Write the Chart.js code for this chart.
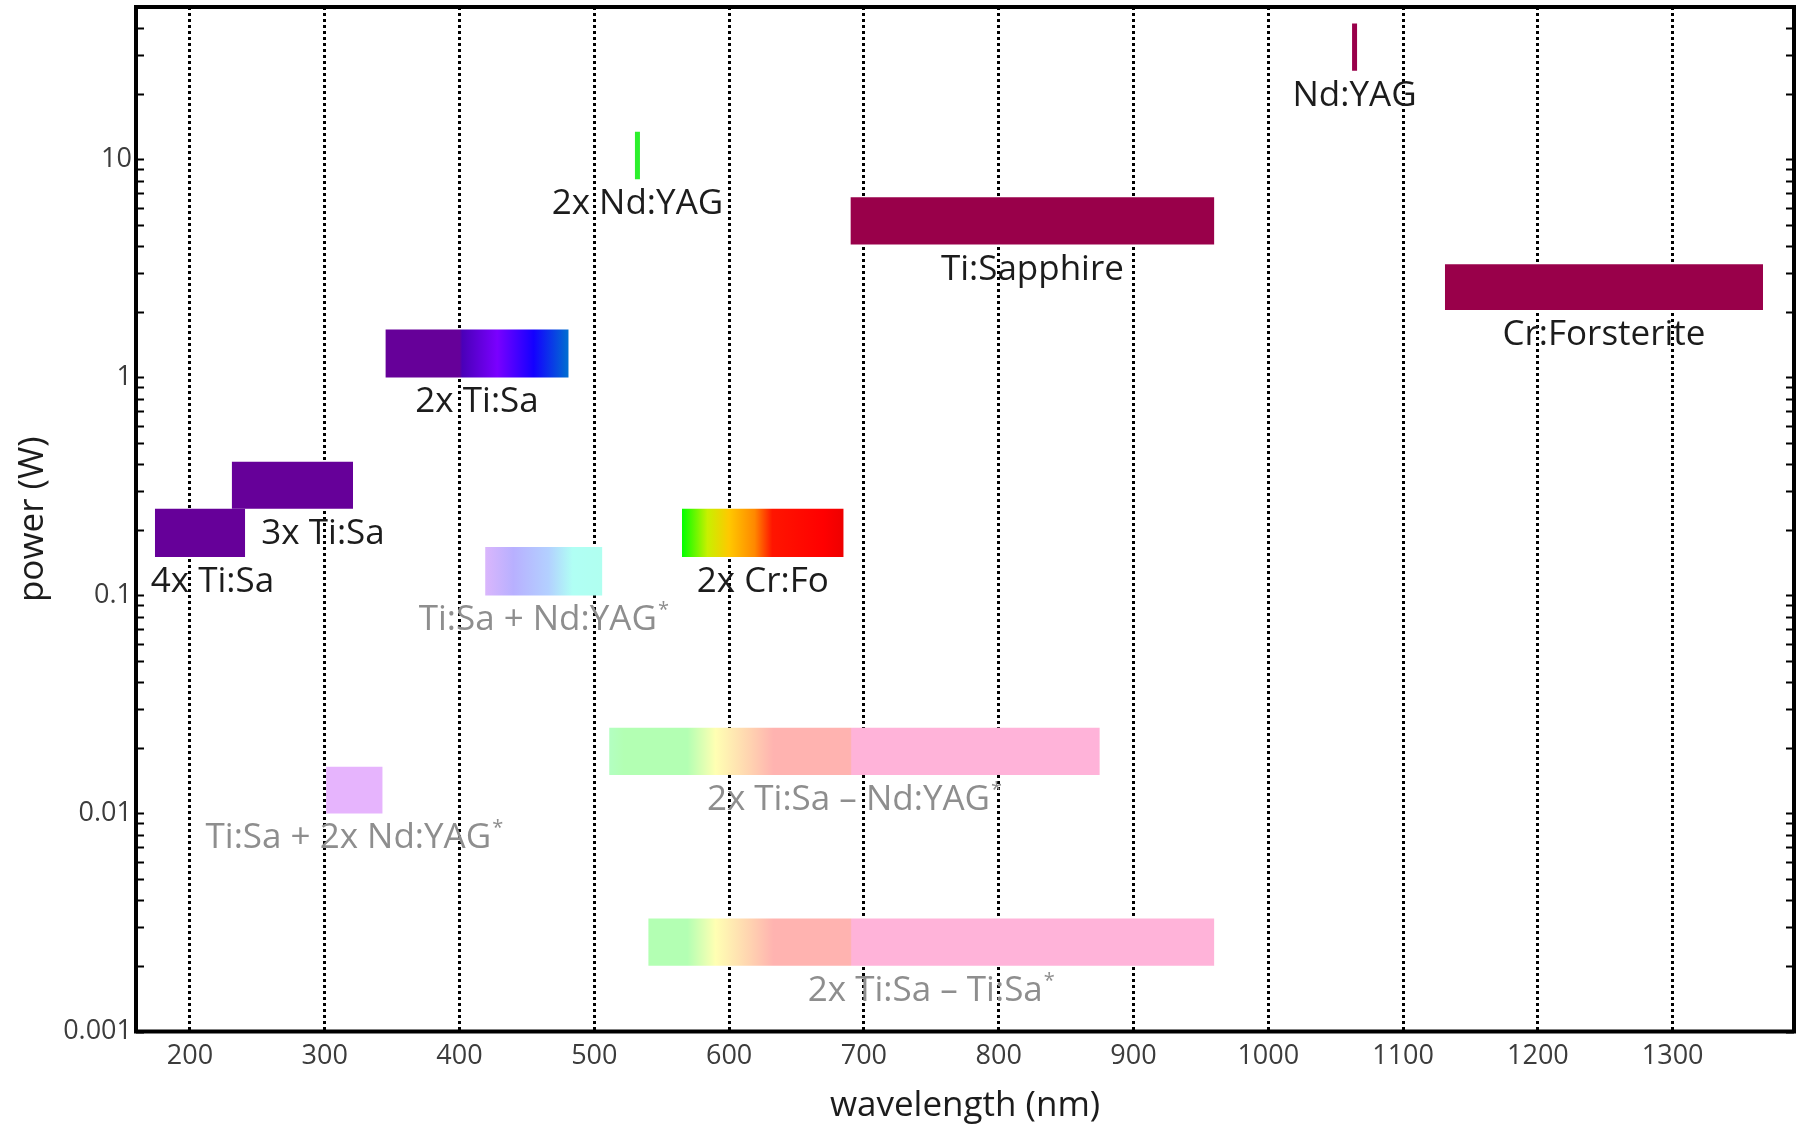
<!DOCTYPE html>
<html lang="en">
<head>
  <meta charset="UTF-8" />
  <title>Laser sources: wavelength vs power</title>
  <script src="https://cdn.jsdelivr.net/npm/chart.js"></script>
  <style>
    html, body {
      margin: 0;
      padding: 0;
      background: #fff;
    }

    .wrap {
      width: 1800px;
      height: 1127px;
      position: relative;
    }
  </style>
</head>
<body>
  <div class="wrap"><canvas id="chart"></canvas></div>

  <script>
    // tunable bands: wavelength range (nm) and power range (W)
    const bandNames = [
      '4x Ti:Sa', '3x Ti:Sa', '2x Ti:Sa', 'Ti:Sa + Nd:YAG*', 'Ti:Sa + 2x Nd:YAG*',
      '2x Cr:Fo', '2x Ti:Sa – Nd:YAG*', '2x Ti:Sa – Ti:Sa*', 'Ti:Sapphire', 'Cr:Forsterite'
    ];
    const bandNmFrom = [174, 231, 345, 419, 301, 565, 511, 540, 690, 1131];
    const bandNmTo = [241, 321, 481, 506, 343, 685, 875, 960, 960, 1367];
    const bandPowerLow = [0.15, 0.25, 1.0, 0.1, 0.01, 0.15, 0.015, 0.002, 4.07, 2.04];
    const bandPowerHigh = [0.25, 0.41, 1.66, 0.167, 0.0164, 0.25, 0.0247, 0.0033, 6.7, 3.3];

    // fixed lines
    const lineNames = ['2x Nd:YAG', 'Nd:YAG'];
    const lineNm = [532, 1064];
    const linePowerLow = [8.1, 25.5];
    const linePowerHigh = [13.4, 42];

    const xTicks = [200, 300, 400, 500, 600, 700, 800, 900, 1000, 1100, 1200, 1300];
    const xTickLabels = ['200', '300', '400', '500', '600', '700', '800', '900', '1000', '1100', '1200', '1300'];
    const yTicks = [0.001, 0.01, 0.1, 1, 10];
    const yTickLabels = ['0.001', '0.01', '0.1', '1', '10'];

    // fill of each band: a colour or the name of a wavelength gradient
    const bandFill = [
      '#660099', '#660099', 'uv', 'paleBlue', '#e6b4fd',
      'redOrange', 'paleVis', 'paleVis', '#99004a', '#99004a'
    ];
    const bandDim = [false, false, false, true, true, false, true, true, false, false];
    const lineColor = ['#2cf02c', '#99004a'];
    const labelLeftAt = { '4x Ti:Sa': 171, '3x Ti:Sa': 253 };

    // gradient stops, keyed by wavelength in nm
    const gradients = {
      uv: [[345, '#660099'], [400, '#660099'], [402, '#4a00b8'], [428, '#7a00ff'], [455, '#1400ff'], [481, '#0070d0']],
      paleBlue: [[419, '#dab6fc'], [440, '#b8b0ff'], [466, '#b3d0ff'], [484, '#b0fff4'], [506, '#b0fff0']],
      redOrange: [[565, '#00ff00'], [584, '#c8f000'], [600, '#ffc800'], [619, '#ff8800'], [632, '#ff1500'], [670, '#ff0000'], [685, '#ee0000']],
      paleVis: [[509, '#b3ffc4'], [522, '#b3ffb3'], [569, '#b3ffb3'], [590, '#ffffb3'], [617, '#ffd0b0'], [633, '#ffb3b0'], [690, '#ffb3b0'], [691, '#ffb3d9'], [960, '#ffb3d9']]
    };

    const FONT = "'Open Sans', sans-serif";
    const LABEL_SIZE = 35;

    const yMinor = [];
    yTicks.forEach(d => {
      for (let k = 1; k <= 9; k++) {
        const v = Number((k * d).toPrecision(3));
        if (v <= 50) yMinor.push(v);
      }
    });

    function fillFor(name) {
      return function (context) {
        const chart = context.chart;
        const stops = gradients[name];
        const x = chart.scales.x;
        if (!chart.chartArea || !x) return stops[0][1];
        const a = stops[0][0];
        const b = stops[stops.length - 1][0];
        const g = chart.ctx.createLinearGradient(x.getPixelForValue(a), 0, x.getPixelForValue(b), 0);
        stops.forEach(s => g.addColorStop((s[0] - a) / (b - a), s[1]));
        return g;
      };
    }

    const datasets = [];
    bandNames.forEach((name, i) => {
      const f = bandFill[i];
      datasets.push({
        label: name,
        data: [{ x: bandNmFrom[i], y: bandPowerHigh[i] }, { x: bandNmTo[i], y: bandPowerHigh[i] }],
        fill: { value: bandPowerLow[i] },
        backgroundColor: gradients[f] ? fillFor(f) : f,
        borderColor: 'transparent',
        borderWidth: 0,
        pointRadius: 0
      });
    });
    lineNames.forEach((name, i) => {
      datasets.push({
        label: name,
        data: [{ x: lineNm[i], y: linePowerLow[i] }, { x: lineNm[i], y: linePowerHigh[i] }],
        fill: false,
        borderColor: lineColor[i],
        borderWidth: 5,
        borderCapStyle: 'butt',
        pointRadius: 0
      });
    });

    const bandLabels = {
      id: 'bandLabels',
      afterDatasetsDraw(chart) {
        const { ctx, scales: { x, y } } = chart;
        const items = [];
        bandNames.forEach((name, i) => items.push({
          name, nm: (bandNmFrom[i] + bandNmTo[i]) / 2, low: bandPowerLow[i], dim: bandDim[i]
        }));
        lineNames.forEach((name, i) => items.push({ name, nm: lineNm[i], low: linePowerLow[i], dim: false }));

        ctx.save();
        ctx.textAlign = 'left';
        ctx.textBaseline = 'alphabetic';
        items.forEach(it => {
          const starred = it.name.endsWith('*');
          const main = starred ? it.name.slice(0, -1) : it.name;
          ctx.font = LABEL_SIZE + 'px ' + FONT;
          const w = ctx.measureText(main).width;
          ctx.font = '20px ' + FONT;
          const ws = starred ? ctx.measureText('*').width + 1 : 0;
          const left = labelLeftAt[main] !== undefined
            ? x.getPixelForValue(labelLeftAt[main])
            : x.getPixelForValue(it.nm) - (w + ws) / 2;
          const base = y.getPixelForValue(it.low) + 35;
          ctx.fillStyle = it.dim ? '#8e8e8e' : '#1c1c1c';
          ctx.font = LABEL_SIZE + 'px ' + FONT;
          ctx.fillText(main, left, base);
          if (starred) {
            ctx.font = '20px ' + FONT;
            ctx.fillText('*', left + w + 1, base - 14);
          }
        });
        ctx.restore();
      }
    };

    const frame = {
      id: 'frame',
      afterDraw(chart) {
        const { ctx, chartArea: a, scales: { y } } = chart;
        ctx.save();
        ctx.strokeStyle = '#000';
        ctx.lineWidth = 2;
        ctx.beginPath();
        yMinor.forEach(v => {
          const py = Math.round(y.getPixelForValue(v)) + 0.5;
          ctx.moveTo(a.left, py);
          ctx.lineTo(a.left + 8, py);
          ctx.moveTo(a.right, py);
          ctx.lineTo(a.right - 8, py);
        });
        ctx.stroke();
        ctx.lineWidth = 4;
        ctx.strokeRect(a.left, a.top, a.right - a.left, a.bottom - a.top);
        ctx.restore();
      }
    };

    new Chart(document.getElementById('chart'), {
      type: 'line',
      data: { datasets },
      plugins: [bandLabels, frame],
      options: {
        responsive: true,
        maintainAspectRatio: false,
        animation: false,
        layout: { padding: { left: 0, right: 6, top: 7, bottom: 0 } },
        plugins: {
          legend: { display: false },
          tooltip: { enabled: false }
        },
        scales: {
          x: {
            type: 'linear',
            min: 160,
            max: 1390,
            afterBuildTicks: s => { s.ticks = xTicks.map(v => ({ value: v })); },
            afterFit: s => { s.height = 95.5; s.paddingLeft = 0; s.paddingRight = 0; },
            grid: { color: '#000', lineWidth: 3, drawTicks: false },
            border: { display: false, dash: [3, 3] },
            ticks: {
              padding: 9,
              color: '#3c3c3c',
              font: { family: FONT, size: 27 },
              maxRotation: 0,
              callback: (v, i) => xTickLabels[i]
            },
            title: {
              display: true,
              text: 'wavelength (nm)',
              color: '#1c1c1c',
              font: { family: FONT, size: 35 },
              padding: { top: 0, bottom: 0 }
            }
          },
          y: {
            type: 'logarithmic',
            min: 0.001,
            max: 50,
            afterBuildTicks: s => { s.ticks = yTicks.map(v => ({ value: v })); },
            afterFit: s => { s.width = 136; s.paddingTop = 0; s.paddingBottom = 0; },
            grid: { display: false },
            border: { display: false },
            ticks: {
              padding: -4,
              color: '#3c3c3c',
              font: { family: FONT, size: 27 },
              callback: (v, i) => yTickLabels[i]
            },
            title: {
              display: true,
              text: 'power (W)',
              color: '#1c1c1c',
              font: { family: FONT, size: 35 },
              padding: { top: 12, bottom: 0 }
            }
          }
        }
      }
    });
  </script>
</body>
</html>
